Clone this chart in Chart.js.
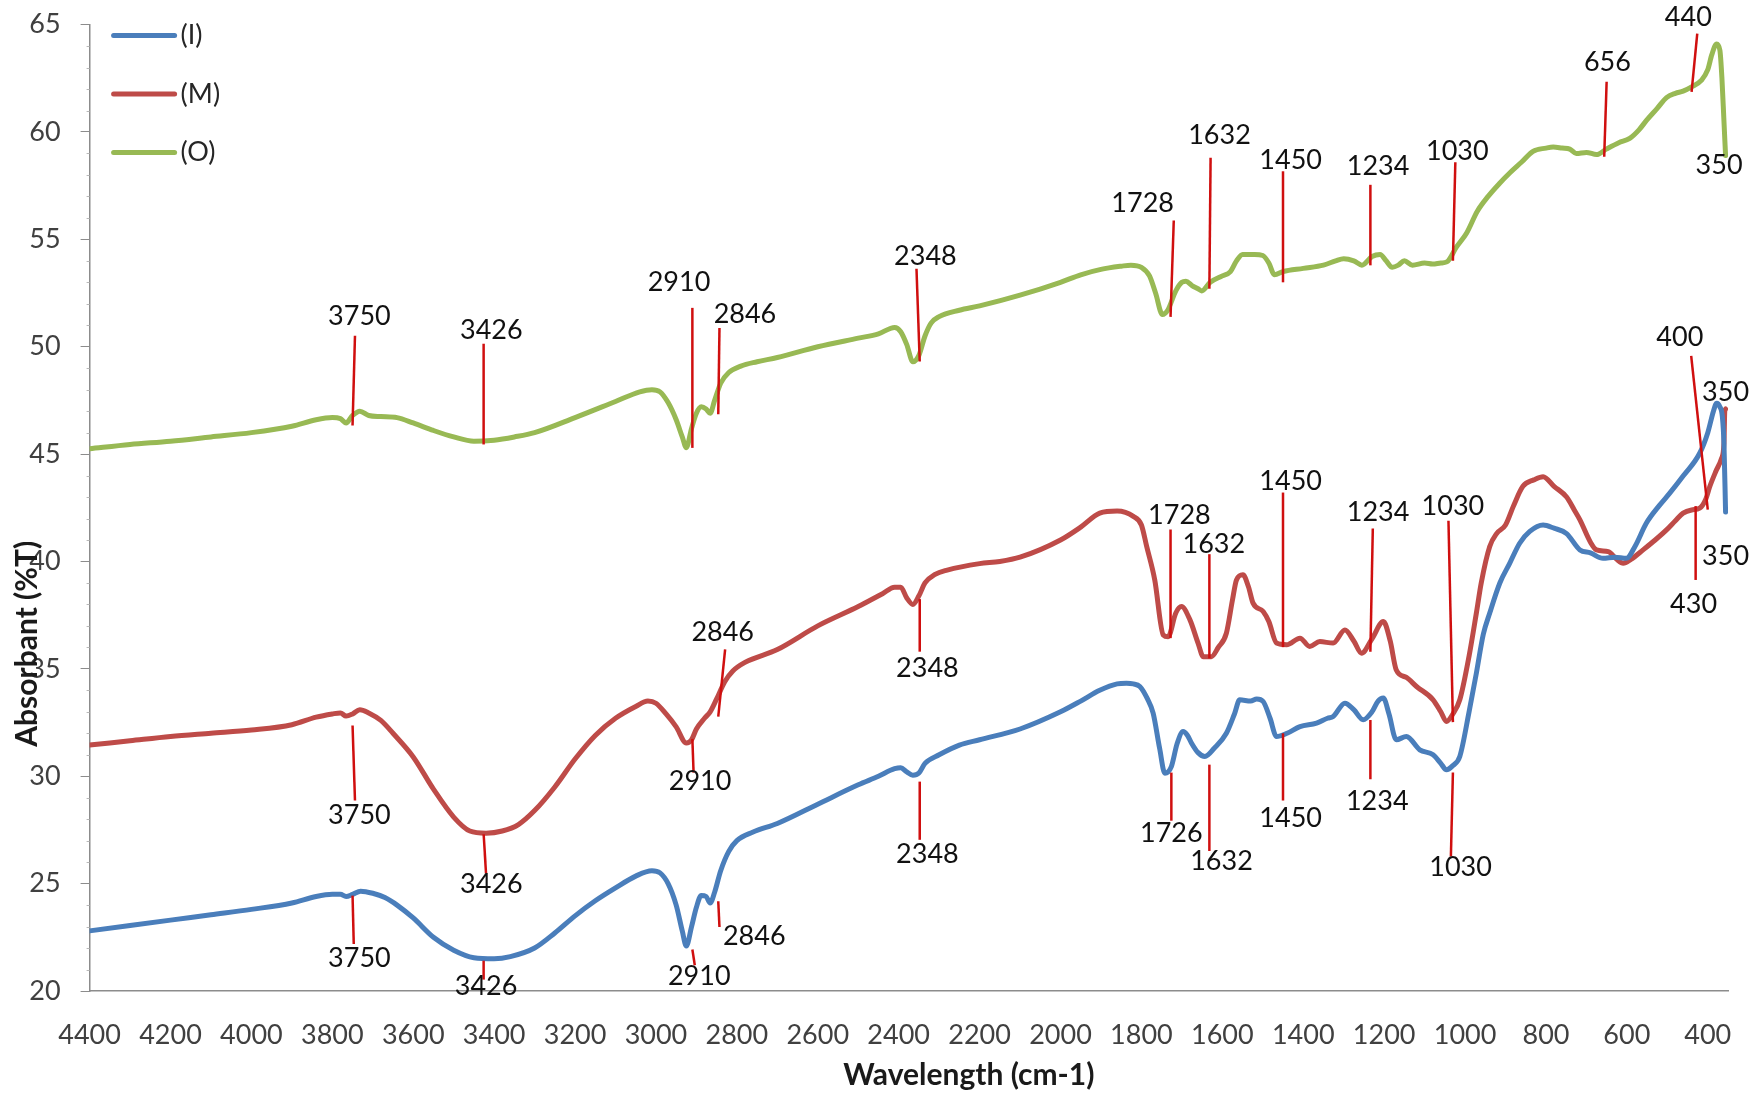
<!DOCTYPE html>
<html>
<head>
<meta charset="utf-8">
<title>FTIR spectra</title>
<script src="https://cdn.jsdelivr.net/npm/chart.js@4.4.1/dist/chart.umd.min.js"></script>
<style>
  html, body { margin: 0; padding: 0; background: #ffffff; }
  canvas { display: block; }
</style>
</head>
<body>
<canvas id="ftir" width="1756" height="1094"></canvas>
<script>
// Axis ticks
const waveTicks = [4400, 4200, 4000, 3800, 3600, 3400, 3200, 3000, 2800, 2600, 2400,
                   2200, 2000, 1800, 1600, 1400, 1200, 1000, 800, 600, 400];
const absorbTicks = [20, 25, 30, 35, 40, 45, 50, 55, 60, 65];

// Series names and colours
const seriesNames = ['(I)', '(M)', '(O)'];
const seriesColors = ['#4a7ebb', '#be4b48', '#98b954'];

// Spectra: [wavenumber (cm-1), %T]
const spectrumI = [
  [4400,22.8],[4300,23.05],[4200,23.3],[4100,23.55],[4000,23.8],[3900,24.1],[3840,24.4],[3800,24.5],
  [3780,24.5],[3766,24.4],[3750,24.5],[3730,24.65],[3700,24.55],[3670,24.35],[3640,24.0],[3600,23.4],
  [3550,22.5],[3500,21.9],[3450,21.55],[3400,21.5],[3360,21.6],[3300,22.0],[3250,22.7],[3200,23.5],
  [3150,24.2],[3100,24.8],[3050,25.35],[3010,25.6],[2990,25.5],[2970,25.0],[2950,24.0],[2935,22.8],
  [2925,22.1],[2912,23.0],[2900,23.9],[2888,24.45],[2876,24.4],[2866,24.1],[2855,24.6],[2840,25.6],
  [2820,26.5],[2800,27.0],[2760,27.4],[2700,27.8],[2600,28.7],[2500,29.6],[2450,30.0],[2410,30.35],
  [2395,30.4],[2380,30.2],[2365,30.05],[2350,30.15],[2335,30.6],[2300,31.0],[2250,31.45],[2200,31.7],
  [2100,32.2],[2000,33.0],[1950,33.5],[1903,34.0],[1860,34.3],[1837,34.33],[1820,34.3],[1804,34.18],
  [1785,33.6],[1771,32.94],[1755,31.3],[1742,30.14],[1726,30.45],[1712,31.5],[1697,32.08],[1686,31.9],
  [1676,31.54],[1660,31.1],[1643,30.92],[1620,31.3],[1590,32.0],[1570,32.9],[1557,33.56],[1530,33.5],
  [1515,33.6],[1499,33.48],[1482,32.7],[1466,31.85],[1440,32.0],[1408,32.31],[1367,32.47],[1340,32.7],
  [1326,32.78],[1297,33.4],[1275,33.1],[1252,32.63],[1230,33.0],[1215,33.5],[1202,33.64],[1188,32.9],
  [1170,31.7],[1145,31.85],[1112,31.23],[1079,31.0],[1060,30.6],[1046,30.3],[1030,30.5],[1013,30.92],
  [990,33.0],[972,34.8],[955,36.6],[939,37.6],[914,39.0],[890,39.9],[865,40.85],[840,41.4],
  [807,41.7],[780,41.55],[749,41.3],[716,40.54],[690,40.4],[659,40.15],[630,40.2],[601,40.15],
  [580,40.7],[552,41.78],[520,42.6],[494,43.18],[460,44.0],[420,45.04],[400,46.0],[386,47.0],
  [378,47.37],[370,47.2],[364,46.75],[360,45.5],[356,42.3]
];

const spectrumM = [
  [4400,31.45],[4300,31.65],[4200,31.85],[4100,32.0],[4000,32.15],[3900,32.4],[3840,32.75],[3800,32.9],
  [3780,32.95],[3766,32.8],[3750,32.9],[3732,33.1],[3710,32.95],[3680,32.6],[3650,32.0],[3600,30.9],
  [3550,29.4],[3500,28.1],[3460,27.45],[3420,27.35],[3380,27.45],[3340,27.75],[3300,28.4],[3250,29.5],
  [3200,30.8],[3150,31.9],[3100,32.7],[3050,33.25],[3020,33.5],[3000,33.4],[2975,32.9],[2950,32.3],
  [2925,31.55],[2912,31.7],[2900,32.2],[2880,32.7],[2866,33.0],[2850,33.6],[2830,34.4],[2810,34.9],
  [2780,35.3],[2700,35.9],[2600,37.0],[2500,37.9],[2440,38.5],[2410,38.8],[2395,38.8],[2380,38.3],
  [2365,38.0],[2350,38.4],[2335,39.0],[2310,39.4],[2280,39.6],[2200,39.9],[2150,40.0],[2100,40.2],
  [2000,41.0],[1950,41.6],[1903,42.25],[1860,42.35],[1820,42.1],[1800,41.7],[1787,40.7],[1767,39.14],
  [1746,36.58],[1734,36.5],[1715,37.6],[1701,37.9],[1680,37.28],[1660,36.2],[1647,35.57],[1627,35.57],
  [1610,36.0],[1590,36.66],[1575,38.2],[1565,39.14],[1549,39.38],[1535,38.8],[1524,38.06],[1499,37.67],
  [1485,37.2],[1466,36.2],[1441,36.12],[1408,36.43],[1384,36.04],[1359,36.27],[1326,36.2],[1297,36.81],
  [1275,36.3],[1256,35.73],[1230,36.4],[1202,37.2],[1185,36.3],[1170,34.95],[1145,34.6],[1120,34.18],
  [1079,33.56],[1060,33.0],[1046,32.55],[1030,32.9],[1013,33.56],[990,35.6],[972,37.6],[960,39.0],
  [939,40.7],[922,41.3],[900,41.7],[880,42.6],[857,43.5],[830,43.8],[807,43.95],[780,43.5],
  [749,43.0],[730,42.4],[716,41.94],[690,40.9],[675,40.54],[646,40.46],[625,40.1],[609,39.92],
  [590,40.1],[560,40.54],[530,41.0],[502,41.47],[480,41.9],[461,42.25],[440,42.4],[420,42.48],
  [405,42.9],[395,43.49],[380,44.2],[366,44.8],[360,45.5],[358,47.0],[356,47.1]
];

const spectrumO = [
  [4400,45.25],[4300,45.45],[4200,45.6],[4100,45.8],[4000,46.0],[3900,46.3],[3840,46.6],[3800,46.7],
  [3780,46.65],[3766,46.45],[3750,46.8],[3732,47.0],[3710,46.8],[3680,46.75],[3640,46.7],[3600,46.45],
  [3550,46.1],[3500,45.8],[3450,45.6],[3400,45.65],[3350,45.8],[3300,46.0],[3200,46.7],[3100,47.45],
  [3040,47.9],[3010,48.0],[2990,47.9],[2970,47.4],[2950,46.6],[2935,45.8],[2925,45.3],[2912,46.2],
  [2900,46.9],[2888,47.2],[2876,47.1],[2866,46.9],[2855,47.5],[2840,48.3],[2820,48.8],[2790,49.1],
  [2750,49.3],[2700,49.5],[2600,50.0],[2500,50.4],[2450,50.6],[2410,50.9],[2395,50.7],[2380,50.1],
  [2365,49.3],[2350,49.6],[2335,50.5],[2320,51.1],[2300,51.4],[2250,51.7],[2200,51.9],[2100,52.4],
  [2000,53.0],[1950,53.35],[1900,53.6],[1850,53.75],[1826,53.8],[1800,53.7],[1780,53.3],[1765,52.5],
  [1748,51.5],[1735,51.7],[1715,52.6],[1700,53.0],[1690,53.05],[1675,52.85],[1660,52.7],[1651,52.6],
  [1630,53.0],[1600,53.3],[1580,53.5],[1565,54.0],[1550,54.3],[1520,54.3],[1500,54.25],[1485,53.9],
  [1471,53.35],[1450,53.5],[1400,53.65],[1350,53.8],[1320,54.0],[1300,54.1],[1275,54.0],[1255,53.8],
  [1230,54.2],[1210,54.3],[1195,54.0],[1180,53.7],[1165,53.8],[1150,54.0],[1130,53.8],[1100,53.9],
  [1080,53.85],[1060,53.9],[1045,53.95],[1021,54.65],[996,55.3],[970,56.3],[943,57.0],[915,57.6],
  [889,58.1],[860,58.6],[832,59.1],[800,59.25],[782,59.3],[760,59.25],[741,59.2],[725,59.0],
  [700,59.05],[675,58.95],[651,59.2],[620,59.5],[593,59.7],[570,60.1],[551,60.55],[525,61.1],
  [502,61.6],[480,61.8],[461,61.9],[440,62.1],[416,62.4],[400,62.9],[390,63.6],[378,64.1],
  [370,63.8],[365,62.5],[360,60.5],[356,58.9]
];

// Peak callouts: [peak (cm-1), %T at curve end, far end (cm-1), far end %T, label (cm-1), label %T]
const peaksI = [
  [3750,24.44,3747,22.19,3733,21.52],
  [3426,21.41,3426,20.53,3420,20.21],
  [2910,21.93,2904,21.2,2893,20.68],
  [2846,24.18,2843,22.98,2757,22.56],
  [2348,29.75,2348,27.04,2329,26.37],
  [1726,30.17,1726,27.93,1726,27.36],
  [1632,30.54,1632,26.52,1602,26.05],
  [1450,32.0,1450,28.87,1431,28.03],
  [1234,32.62,1234,29.86,1217,28.82],
  [1030,30.17,1035,26.26,1011,25.74]
];
const peaksM = [
  [3750,32.36,3744,28.87,3733,28.19],
  [3426,27.3,3420,25.48,3407,24.96],
  [2910,31.74,2907,30.17,2891,29.75],
  [2846,32.78,2829,35.91,2835,36.69],
  [2348,38.25,2348,35.8,2329,35.02],
  [1728,36.43,1728,41.49,1706,42.16],
  [1632,35.49,1632,40.34,1621,40.81],
  [1450,36.01,1450,43.21,1431,43.73],
  [1234,35.8,1228,41.54,1215,42.27],
  [1030,32.52,1041,41.9,1030,42.58],
  [400,42.42,441,49.57,469,50.45],
  [430,42.58,430,39.14,435,37.99]
];
const peaksO = [
  [3750,46.33,3744,50.51,3733,51.44],
  [3426,45.45,3426,50.14,3407,50.77],
  [2910,45.29,2910,51.81,2943,53.0],
  [2846,46.86,2843,50.87,2780,51.5],
  [2348,49.31,2356,53.63,2334,54.2],
  [1728,51.39,1720,55.88,1797,56.66],
  [1632,52.7,1629,58.8,1607,59.84],
  [1450,53.0,1450,58.17,1431,58.69],
  [1234,53.79,1234,57.54,1215,58.38],
  [1030,54.0,1024,58.59,1019,59.1],
  [656,58.85,650,62.34,648,63.23],
  [440,61.87,426,64.58,448,65.36]
];
// End-of-scan labels: [value, label (cm-1), label %T]
const scanEndLabels = [[350,372,58.43],[350,356,47.9],[350,356,40.23]];

const FONT = 'Lato, "Open Sans", "DejaVu Sans", sans-serif';

const peakPlugin = {
  id: 'peakCallouts',
  afterDatasetsDraw(chart) {
    const {ctx, scales: {x, y}} = chart;
    ctx.save();
    ctx.strokeStyle = '#d00f0f';
    ctx.lineWidth = 2.5;
    ctx.lineCap = 'butt';
    const all = [...peaksI, ...peaksM, ...peaksO];
    all.forEach(([w, y1, w2, y2]) => {
      ctx.beginPath();
      ctx.moveTo(x.getPixelForValue(w), y.getPixelForValue(y1));
      ctx.lineTo(x.getPixelForValue(w2), y.getPixelForValue(y2));
      ctx.stroke();
    });
    ctx.fillStyle = '#111111';
    ctx.font = '27px ' + FONT;
    ctx.textAlign = 'center';
    ctx.textBaseline = 'middle';
    all.forEach(([w, , , , lw, ly]) => {
      ctx.fillText(String(w), x.getPixelForValue(lw), y.getPixelForValue(ly));
    });
    scanEndLabels.forEach(([v, lw, ly]) => {
      ctx.fillText(String(v), x.getPixelForValue(lw), y.getPixelForValue(ly));
    });
    ctx.restore();
  }
};

const decorPlugin = {
  id: 'decor',
  afterDraw(chart) {
    const {ctx, chartArea, scales: {y}} = chart;
    ctx.save();
    // minor ticks on the value axis
    ctx.strokeStyle = '#b8b8b8';
    ctx.lineWidth = 1;
    for (let v = 21; v < 65; v++) {
      if (v % 5 === 0) continue;
      const py = Math.round(y.getPixelForValue(v)) + 0.5;
      ctx.beginPath();
      ctx.moveTo(chartArea.left - 3, py);
      ctx.lineTo(chartArea.left, py);
      ctx.stroke();
    }
    // axis titles
    ctx.fillStyle = '#1a1a1a';
    ctx.font = 'bold 30px ' + FONT;
    ctx.textAlign = 'center';
    ctx.textBaseline = 'middle';
    ctx.fillText('Wavelength (cm-1)', (chartArea.left + chartArea.right) / 2 + 60, chartArea.bottom + 84);
    ctx.save();
    ctx.translate(chartArea.left - 62, (chartArea.top + chartArea.bottom) / 2 + 136);
    ctx.rotate(-Math.PI / 2);
    ctx.fillText('Absorbant (%T)', 0, 0);
    ctx.restore();
    // legend
    ctx.font = '27px ' + FONT;
    ctx.textAlign = 'left';
    ctx.lineCap = 'round';
    ctx.lineWidth = 5;
    chart.data.datasets.forEach((ds, i) => {
      const ly = chartArea.top + 11 + i * 58.5;
      ctx.strokeStyle = ds.borderColor;
      ctx.beginPath();
      ctx.moveTo(chartArea.left + 24, ly);
      ctx.lineTo(chartArea.left + 85, ly);
      ctx.stroke();
      ctx.fillStyle = '#262626';
      ctx.fillText(ds.label, chartArea.left + 91, ly);
    });
    ctx.restore();
  }
};

// Scale label overflow is allowed outside the plot box, so drop the padding the scales request
const noScalePadding = axis => {
  axis.paddingTop = 0;
  axis.paddingBottom = 0;
  axis.paddingLeft = 0;
  axis.paddingRight = 0;
};

const toPoints = s => s.map(([w, v]) => ({x: w, y: v}));
const spectra = [spectrumI, spectrumM, spectrumO];

new Chart(document.getElementById('ftir'), {
  type: 'line',
  data: {
    datasets: spectra.map((s, i) => ({
      label: seriesNames[i],
      data: toPoints(s),
      borderColor: seriesColors[i],
      backgroundColor: seriesColors[i],
      borderWidth: 5,
      pointRadius: 0,
      cubicInterpolationMode: 'monotone',
      borderCapStyle: 'round',
      borderJoinStyle: 'round',
      fill: false
    }))
  },
  options: {
    responsive: false,
    animation: false,
    layout: { autoPadding: false, padding: { top: 24.6, right: 28, bottom: 0, left: 0 } },
    plugins: { legend: { display: false }, tooltip: { enabled: false } },
    scales: {
      x: {
        type: 'linear',
        reverse: true,
        min: 350,
        max: 4400,
        afterBuildTicks: axis => { axis.ticks = waveTicks.map(v => ({value: v})); },
        afterFit: axis => { axis.height = 103; noScalePadding(axis); },
        grid: { display: false },
        border: { display: true, color: '#8c8c8c', width: 1.5 },
        ticks: {
          autoSkip: false,
          maxRotation: 0,
          padding: 20.5,
          color: '#404040',
          font: { family: FONT, size: 27 },
          callback: v => String(v)
        }
      },
      y: {
        type: 'linear',
        min: 20,
        max: 65,
        afterBuildTicks: axis => { axis.ticks = absorbTicks.map(v => ({value: v})); },
        afterFit: axis => { axis.width = 89.6; noScalePadding(axis); },
        grid: { display: true, drawOnChartArea: false, drawTicks: true, tickLength: 9, color: '#8c8c8c' },
        border: { display: true, color: '#8c8c8c', width: 1.5 },
        ticks: {
          padding: 20,
          color: '#404040',
          font: { family: FONT, size: 27 },
          callback: v => String(v)
        }
      }
    }
  },
  plugins: [peakPlugin, decorPlugin]
});
</script>
</body>
</html>
